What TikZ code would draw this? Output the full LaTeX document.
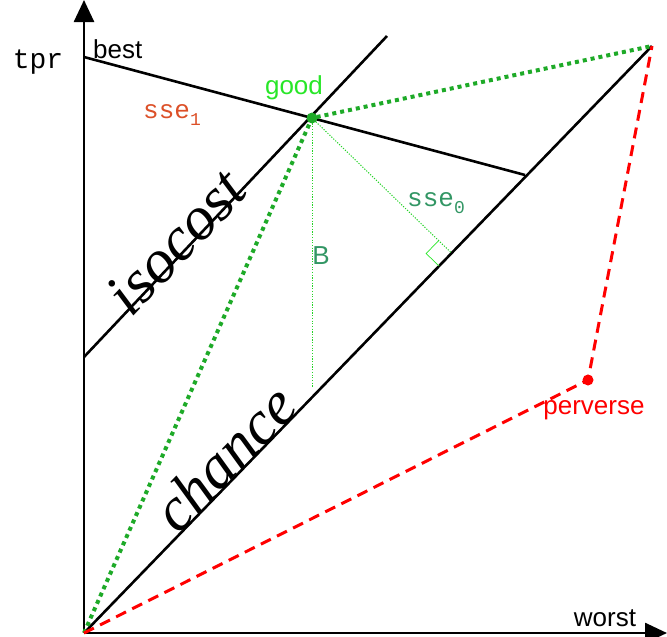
\documentclass[tikz,border=0pt]{standalone}
\usepackage{fontspec}
\setmainfont{Liberation Sans}
\newfontfamily\mono{Liberation Mono}
\newfontfamily\serifit{Liberation Serif}
\usetikzlibrary{calc,arrows.meta}
\definecolor{gr}{RGB}{30,170,40}
\definecolor{lgr}{RGB}{40,230,40}
\definecolor{teal}{RGB}{50,150,100}
\definecolor{org}{RGB}{220,80,40}
\newcommand{\mysub}[1]{\raisebox{-0.25em}{\fontsize{18}{18}\selectfont #1}}
\begin{document}
\begin{tikzpicture}[x=1pt,y=-1pt,
  blk/.style={line width=2.6pt,black},
  ax/.style={line width=2.6pt,black,-{Triangle[length=22pt,width=20pt]}},
  thick dots/.style={gr,line width=4pt,dash pattern=on 4pt off 4pt},
  thin dots/.style={lgr!70!gr,line width=1pt,dash pattern=on 1.2pt off 1.5pt},
  reddash/.style={red,line width=3pt,dash pattern=on 11pt off 7pt},
  big/.style={font=\serifit\itshape\fontsize{62}{62}\selectfont},
  lab/.style={font=\fontsize{26}{26}\selectfont}]
\useasboundingbox (0,0) rectangle (667,637);
\coordinate (o) at (84,633);
\coordinate (best) at (84,57);
\coordinate (tr) at (652,46);
\coordinate (good) at (312,118);
\coordinate (perv) at (588,380);
\coordinate (isoA) at (84,357);
\coordinate (isoB) at (387,36);
\coordinate (bestEnd) at (525,175);
\coordinate (Bfoot) at (312,388);
\draw[ax] (o) -- (84,0);
\draw[ax] (o) -- (667,633);
\draw[blk] (o) -- (tr);
\draw[blk] (isoA) -- (isoB);
\draw[blk] (best) -- (bestEnd);
\draw[thick dots] (o) -- (good) -- (tr);
\draw[thin dots] (good) -- (Bfoot);
\coordinate (foot) at ($(o)!(good)!(tr)$);
\draw[thin dots] (good) -- (foot);
\coordinate (p1) at ($(foot)!18pt!(good)$);
\coordinate (p3) at ($(foot)!18pt!(o)$);
\draw[lgr,line width=0.7pt] (p1) -- ($(p1)+(p3)-(foot)$) -- (p3);
\draw[reddash] (o) -- (perv) -- (tr);
\fill[gr] (good) circle (5.5pt);
\fill[red] (perv) circle (5.5pt);
\node[lab,anchor=south west,inner sep=1pt] at (92,60) {best};
\node[font=\mono\fontsize{28}{28}\selectfont] at (38,62) {tpr};
\node[lab] at (605,618) {worst};
\node[lab,lgr] at (294,88) {good};
\node[lab,red] at (594,410) {perverse};
\node[lab,teal] at (321,256) {B};
\node[font=\mono\fontsize{26}{26}\selectfont,org] at (172,115) {sse\mysub{1}};
\node[font=\mono\fontsize{26}{26}\selectfont,teal] at (436,203) {sse\mysub{0}};
\node[big,rotate=46.7] at (176,242) {isocost};
\node[big,rotate=45.9] at (224,458) {chance};
\end{tikzpicture}
\end{document}
